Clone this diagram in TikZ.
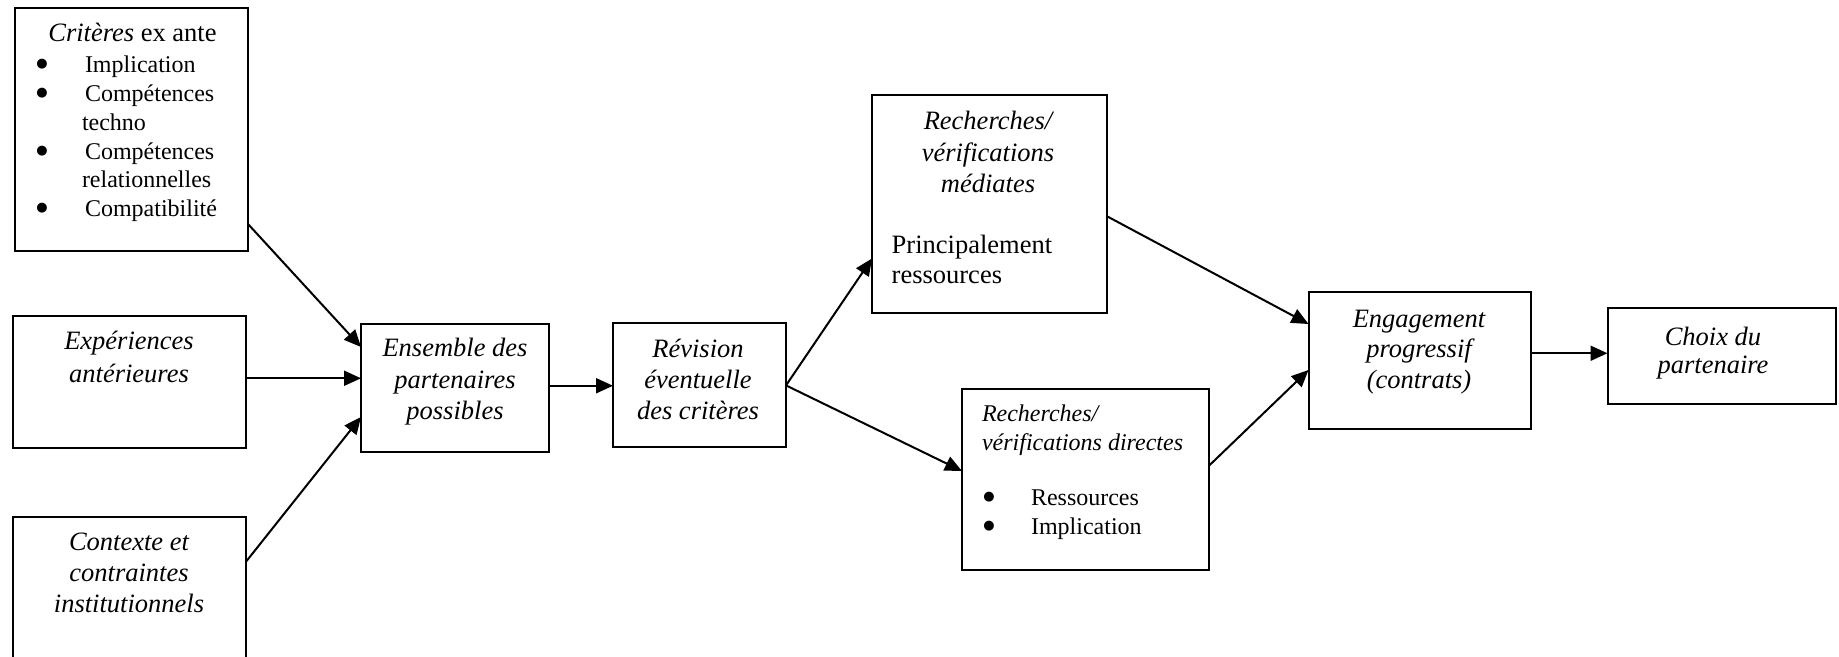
\documentclass[tikz,border=0pt]{standalone}
\usepackage{fontspec}
\setmainfont{Liberation Serif}
\newfontfamily\dejavu{DejaVu Sans}
\usetikzlibrary{arrows.meta}
\tikzset{
  box/.style={draw, line width=2pt, rectangle, inner sep=0pt, outer sep=0pt},
  arr/.style={line width=2pt, -{Triangle[length=17pt,width=15pt]}},
  big/.style={inner sep=0pt, outer sep=0pt, anchor=base, font=\fontsize{26.5}{30}\selectfont},
  bigit/.style={big, font=\fontsize{26.5}{30}\selectfont\itshape},
  small/.style={inner sep=0pt, outer sep=0pt, anchor=base west, font=\fontsize{24}{28}\selectfont},
  smallit/.style={small, font=\fontsize{24}{28}\selectfont\itshape},
  bul/.style={inner sep=0pt, outer sep=0pt, anchor=center, font=\dejavu\fontsize{13}{14}\selectfont},
  bigw/.style={big, anchor=base west}
}
\begin{document}
\begin{tikzpicture}[x=1pt,y=-1pt]
\useasboundingbox (0,0) rectangle (1839,656);
\clip (0,0) rectangle (1839,656);
% boxes
\node[box, minimum width=233pt, minimum height=243pt] (crit) at (131.5,129.5) {};
\node[box, minimum width=233pt, minimum height=131.5pt] (exp) at (129.5,381.75) {};
\node[box, minimum width=233pt, minimum height=183pt] (ctx) at (129.5,608.5) {};
\node[box, minimum width=188pt, minimum height=127.5pt] (ens) at (455,387.75) {};
\node[box, minimum width=173pt, minimum height=124pt] (rev) at (699.5,385.4) {};
\node[box, minimum width=234.5pt, minimum height=217.5pt] (med) at (989.25,203.75) {};
\node[box, minimum width=247pt, minimum height=180.5pt] (dir) at (1085.5,479.25) {};
\node[box, minimum width=222.5pt, minimum height=136.5pt] (eng) at (1419.75,360.25) {};
\node[box, minimum width=228.5pt, minimum height=96pt] (cho) at (1721.75,355.5) {};
% texts: criteres
\node[big] (critT) at (132.5,41.7) {\textit{Critères} ex ante};
\node[bul] (cb1) at (42,64.5) {●};
\node[bul] (cb2) at (42,93.5) {●};
\node[bul] (cb3) at (42,150.9) {●};
\node[bul] (cb4) at (42,208.3) {●};
\node[small] (ci1) at (85,72.7) {Implication};
\node[small] (ci2) at (85,101.7) {Compétences};
\node[small] (ci2b) at (82,130.4) {techno};
\node[small] (ci3) at (85,159.1) {Compétences};
\node[small] (ci3b) at (82,187.8) {relationnelles};
\node[small] (ci4) at (85,216.5) {Compatibilité};
% experiences
\node[bigit] (ex1) at (129,349.6) {Expériences};
\node[bigit] (ex2) at (129,382.8) {antérieures};
% contexte
\node[bigit] (cx1) at (129,550.6) {Contexte et};
\node[bigit] (cx2) at (129,581.6) {contraintes};
\node[bigit] (cx3) at (129,612.6) {institutionnels};
% ensemble
\node[bigit] (en1) at (455,356.4) {Ensemble des};
\node[bigit] (en2) at (455,388) {partenaires};
\node[bigit] (en3) at (455,419.7) {possibles};
% revision
\node[bigit] (rv1) at (698,357.3) {Révision};
\node[bigit] (rv2) at (698,388.3) {éventuelle};
\node[bigit] (rv3) at (698,419.3) {des critères};
% mediates
\node[bigit] (md1) at (988,129.3) {Recherches/};
\node[bigit] (md2) at (988,161) {vérifications};
\node[bigit] (md3) at (988,192) {médiates};
\node[bigw] (md4) at (891.7,253.3) {Principalement};
\node[bigw] (md5) at (891.7,283.3) {ressources};
% directes
\node[smallit] (dr1) at (982,421.6) {Recherches/};
\node[smallit] (dr2) at (982,450) {vérifications directes};
\node[bul] (db1) at (989,497.5) {●};
\node[bul] (db2) at (989,526.5) {●};
\node[small] (dr3) at (1031,505.7) {Ressources};
\node[small] (dr4) at (1031,534.7) {Implication};
% engagement
\node[bigit] (eg1) at (1419,327) {Engagement};
\node[bigit] (eg2) at (1419,357.5) {progressif};
\node[bigit] (eg3) at (1419,388) {(contrats)};
% choix
\node[bigit] (ch1) at (1713,345.5) {Choix du};
\node[bigit] (ch2) at (1713,373.5) {partenaire};
% connectors
\draw[arr] ([yshift=27pt]crit.south east) -- ([yshift=-23pt]ens.north west);
\coordinate (e1) at ([yshift=3.5pt]exp.east);
\draw[arr] (e1) -- (e1 -| ens.west);
\draw[arr] ([yshift=-44.7pt]ctx.north east) -- ([yshift=-93pt]ens.north west);
\coordinate (e2) at ([yshift=2pt]ens.east);
\draw[arr] (e2) -- (e2 -| rev.west);
\draw[arr] (rev.east) -- ([yshift=54pt]med.south west);
\draw[arr] (rev.east) -- ([yshift=-82pt]dir.north west);
\draw[arr] ([yshift=-121pt]med.north east) -- ([yshift=-32pt]eng.north west);
\draw[arr] ([yshift=-76.7pt]dir.north east) -- ([yshift=-78pt]eng.north west);
\coordinate (e3) at ([yshift=7pt]eng.east);
\draw[arr] (e3) -- (e3 -| cho.west);
\end{tikzpicture}
\end{document}
